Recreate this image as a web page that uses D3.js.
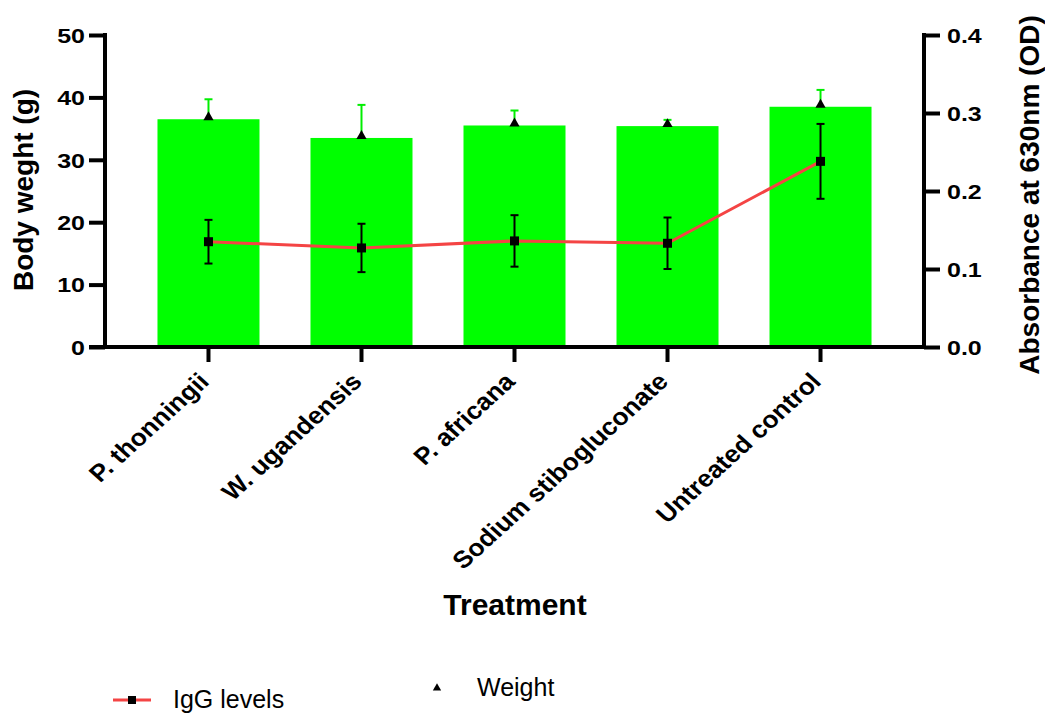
<!DOCTYPE html>
<html>
<head>
  <script src="https://d3js.org/d3.v7.min.js"></script>
  <style>
    body, html { margin: 0; padding: 0; background: #fff; overflow: hidden; }
    text { font-family: "Liberation Sans", Arial, sans-serif; fill: #000; }
    .tick-label { font-size: 20px; font-weight: bold; }
    .cat-label { font-size: 24px; font-weight: bold; }
    .axis-title { font-size: 28px; font-weight: bold; }
    .legend-label { font-size: 25px; }
  </style>
</head>
<body>
  <div id="chart"></div>
  <script>
    // data
    const treatments = ["P. thonningii", "W. ugandensis", "P. africana", "Sodium stibogluconate", "Untreated control"];
    const weight = [36.5, 33.5, 35.5, 35.4, 38.5];
    const weightErr = [3.2, 5.3, 2.4, 1.0, 2.7];
    const igg = [0.135, 0.127, 0.136, 0.133, 0.238];
    const iggErr = [0.028, 0.031, 0.033, 0.033, 0.048];
    const leftTicks = [0, 10, 20, 30, 40, 50];
    const rightTicks = [0, 0.1, 0.2, 0.3, 0.4];

    const W = 1045, H = 715;
    const pl = 105, pr = 924, pt = 35, pb = 347;

    const svg = d3.select("#chart").append("svg")
      .attr("width", W).attr("height", H);

    const x = d3.scaleBand()
      .domain(treatments)
      .range([pl, pr])
      .paddingInner(1 / 3)
      .paddingOuter(0.343);

    const y = d3.scaleLinear().domain([0, 50]).range([pb, pt]);
    const y2 = d3.scaleLinear().domain([0, 0.4]).range([pb, pt]);

    const cx = d => x(d) + x.bandwidth() / 2;

    // widen the numbers a little, the original font is broader
    function widen(sel, k) {
      sel.each(function () {
        const len = this.getComputedTextLength();
        d3.select(this).attr("textLength", len * k).attr("lengthAdjust", "spacingAndGlyphs");
      });
    }

    // bars
    svg.append("g").selectAll("rect")
      .data(treatments)
      .join("rect")
      .attr("x", d => x(d))
      .attr("width", x.bandwidth())
      .attr("y", (d, i) => y(weight[i]))
      .attr("height", (d, i) => pb - y(weight[i]))
      .attr("fill", "#00ff00");

    // weight error bars (upper only visible)
    const wErr = svg.append("g").attr("stroke", "#00ee00").attr("stroke-width", 2);
    treatments.forEach((t, i) => {
      wErr.append("line")
        .attr("x1", cx(t)).attr("x2", cx(t))
        .attr("y1", y(weight[i])).attr("y2", y(weight[i] + weightErr[i]));
      wErr.append("line")
        .attr("x1", cx(t) - 4).attr("x2", cx(t) + 4)
        .attr("y1", y(weight[i] + weightErr[i])).attr("y2", y(weight[i] + weightErr[i]));
    });

    // weight triangles
    svg.append("g").selectAll("path")
      .data(treatments)
      .join("path")
      .attr("d", d3.symbol(d3.symbolTriangle, 45))
      .attr("transform", (d, i) => `translate(${cx(d)},${y(weight[i]) - 2})`)
      .attr("fill", "#000");

    // IgG line
    svg.append("path")
      .datum(treatments)
      .attr("fill", "none")
      .attr("stroke", "#f44444")
      .attr("stroke-width", 3)
      .attr("d", d3.line().x(d => cx(d)).y((d, i) => y2(igg[i])));

    // IgG error bars
    const gErr = svg.append("g").attr("stroke", "#000").attr("stroke-width", 2);
    treatments.forEach((t, i) => {
      const hi = y2(igg[i] + iggErr[i]), lo = y2(igg[i] - iggErr[i]);
      gErr.append("line").attr("x1", cx(t)).attr("x2", cx(t)).attr("y1", hi).attr("y2", lo);
      gErr.append("line").attr("x1", cx(t) - 4).attr("x2", cx(t) + 4).attr("y1", hi).attr("y2", hi);
      gErr.append("line").attr("x1", cx(t) - 4).attr("x2", cx(t) + 4).attr("y1", lo).attr("y2", lo);
    });

    // IgG squares
    svg.append("g").selectAll("rect")
      .data(treatments)
      .join("rect")
      .attr("x", d => cx(d) - 4.5)
      .attr("y", (d, i) => y2(igg[i]) - 4.5)
      .attr("width", 9).attr("height", 9)
      .attr("fill", "#000");

    // left axis
    const yAxis = svg.append("g")
      .attr("transform", `translate(${pl},0)`)
      .call(d3.axisLeft(y).tickValues(leftTicks).tickSize(16).tickPadding(4).tickSizeOuter(0));
    yAxis.select(".domain").attr("stroke-width", 4).attr("d", `M0,${pt - 2}V${pb + 2}`);
    yAxis.selectAll(".tick line").attr("stroke-width", 4);
    yAxis.selectAll(".tick text").attr("class", "tick-label").attr("dy", "0.36em").call(widen, 1.25);

    // right axis
    const y2Axis = svg.append("g")
      .attr("transform", `translate(${pr},0)`)
      .call(d3.axisRight(y2).tickValues(rightTicks).tickFormat(d3.format(".1f")).tickSize(16).tickPadding(7).tickSizeOuter(0));
    y2Axis.select(".domain").attr("stroke-width", 4).attr("d", `M0,${pt - 2}V${pb + 2}`);
    y2Axis.selectAll(".tick line").attr("stroke-width", 4);
    y2Axis.selectAll(".tick text").attr("class", "tick-label").attr("dy", "0.36em").call(widen, 1.25);

    // bottom axis
    const xAxis = svg.append("g")
      .attr("transform", `translate(0,${pb})`)
      .call(d3.axisBottom(x).tickSize(15).tickSizeOuter(0));
    xAxis.select(".domain").attr("stroke-width", 4).attr("d", `M${pl - 16},0H${pr}`);
    xAxis.selectAll(".tick line").attr("stroke-width", 4);
    xAxis.selectAll(".tick text")
      .attr("class", "cat-label")
      .attr("text-anchor", "end")
      .attr("dy", null)
      .attr("y", 0)
      .attr("transform", "translate(2,36) scale(1.1,1) rotate(-45)");

    // axis titles
    svg.append("text").attr("class", "axis-title")
      .attr("text-anchor", "middle")
      .attr("transform", `translate(33,190) rotate(-90)`)
      .text("Body weght (g)");
    svg.append("text").attr("class", "axis-title")
      .attr("text-anchor", "middle")
      .attr("transform", `translate(1039,195) rotate(-90)`)
      .text("Absorbance at 630nm (OD)");
    svg.append("text").attr("class", "axis-title")
      .attr("text-anchor", "middle")
      .style("font-size", "30px")
      .attr("x", 515).attr("y", 615)
      .text("Treatment");

    // legend
    const leg = svg.append("g");
    leg.append("line").attr("x1", 113).attr("x2", 151).attr("y1", 700).attr("y2", 700)
      .attr("stroke", "#f44444").attr("stroke-width", 3);
    leg.append("rect").attr("x", 128).attr("y", 696).attr("width", 8).attr("height", 8).attr("fill", "#000");
    leg.append("text").attr("class", "legend-label").attr("x", 173).attr("y", 708).text("IgG levels");
    leg.append("path").attr("d", d3.symbol(d3.symbolTriangle, 30))
      .attr("transform", "translate(437,688)").attr("fill", "#000");
    leg.append("text").attr("class", "legend-label").attr("x", 477).attr("y", 696).text("Weight");
  </script>
</body>
</html>
